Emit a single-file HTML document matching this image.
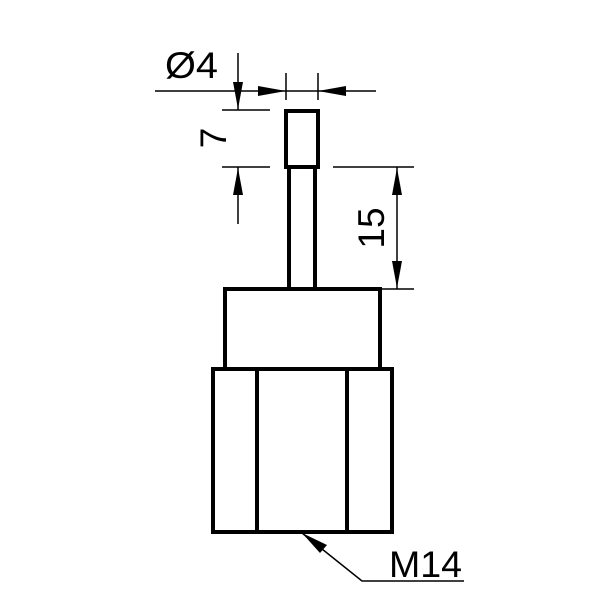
<!DOCTYPE html>
<html><head><style>body{margin:0;background:#fff}svg{display:block}</style></head>
<body>
<svg width="600" height="600" viewBox="0 0 600 600" xmlns="http://www.w3.org/2000/svg">
<g fill="none" stroke="#000" stroke-width="4" stroke-linejoin="miter">
<rect x="286" y="111" width="32" height="56"/>
<line x1="289" y1="167" x2="289" y2="289"/>
<line x1="315" y1="167" x2="315" y2="289"/>
<rect x="225" y="289" width="155" height="80"/>
<rect x="213" y="369" width="179" height="163"/>
<line x1="257" y1="369" x2="257" y2="532"/>
<line x1="347" y1="369" x2="347" y2="532"/>
</g>
<g fill="none" stroke="#000" stroke-width="1.5">
<line x1="155" y1="91" x2="376" y2="91"/>
<line x1="286" y1="73" x2="286" y2="100"/>
<line x1="318" y1="73" x2="318" y2="100"/>
<line x1="238" y1="53" x2="238" y2="110"/>
<line x1="238" y1="167" x2="238" y2="224"/>
<line x1="222" y1="110" x2="270" y2="110"/>
<line x1="222" y1="167" x2="270" y2="167"/>
<line x1="333" y1="167" x2="414" y2="167"/>
<line x1="380" y1="289" x2="414" y2="289"/>
<line x1="397" y1="167" x2="397" y2="289"/>
<polyline points="302,533 362,581 464,581"/>
</g>
<g fill="#000">
<polygon points="286,91 258,86 258,96"/>
<polygon points="318,91 346,86 346,96"/>
<polygon points="238,109 233,82 243,82"/>
<polygon points="238,168 233,195 243,195"/>
<polygon points="397,168 392,195 402,195"/>
<polygon points="397,288 392,261 402,261"/>
<polygon points="302,533 327,545 320,553"/>
</g>
<g font-family="Liberation Sans, sans-serif" font-size="37" fill="#000">
<text x="165" y="78" textLength="53" lengthAdjust="spacingAndGlyphs">Ø4</text>
<text x="389" y="577" textLength="73" lengthAdjust="spacingAndGlyphs">M14</text>
<text transform="translate(226,138) rotate(-90)" text-anchor="middle">7</text>
<text transform="translate(384,228) rotate(-90)" text-anchor="middle">15</text>
</g>
</svg>
</body></html>
